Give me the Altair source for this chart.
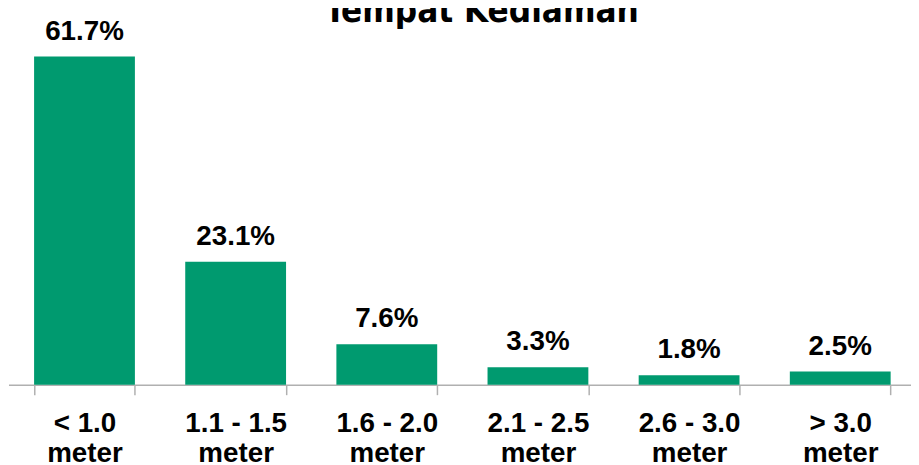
import altair as alt
import pandas as pd

categories = ["< 1.0\nmeter", "1.1 - 1.5\nmeter", "1.6 - 2.0\nmeter",
              "2.1 - 2.5\nmeter", "2.6 - 3.0\nmeter", "> 3.0\nmeter"]
values = [61.7, 23.1, 7.6, 3.3, 1.8, 2.5]
labels = ["61.7%", "23.1%", "7.6%", "3.3%", "1.8%", "2.5%"]

df = pd.DataFrame({"cat": categories, "val": values, "lab": labels})

FONT = "Liberation Sans"
GREEN = "#009A6F"

x = alt.X("cat:N", sort=categories, title=None,
          scale=alt.Scale(paddingInner=0.333, paddingOuter=0.152, align=0.557),
          axis=alt.Axis(labelExpr="split(datum.label, '\\n')", labelAngle=0,
                        labelFont=FONT, labelFontSize=28, labelFontWeight="bold",
                        labelColor="#000000", labelLineHeight=30.5, labelPadding=15,
                        tickBand="extent", tickSize=10, tickColor="#b0b0b0",
                        domainColor="#b0b0b0", domainWidth=1.5, tickWidth=1.5,
                        grid=False))
y = alt.Y("val:Q", scale=alt.Scale(domain=[0, 70], nice=False), axis=None)

bars = alt.Chart(df).mark_bar(color=GREEN).encode(x=x, y=y)
text = alt.Chart(df).mark_text(font=FONT, fontSize=28, fontWeight="bold",
                               color="#000000", baseline="alphabetic", dy=-17).encode(
    x=alt.X("cat:N", sort=categories), y="val:Q", text="lab:N")

chart = (bars + text).properties(
    width=910, height=375.6,
    autosize=alt.AutoSizeParams(type="none"),
    padding={"left": 0.5, "top": 2.4, "right": 0, "bottom": 77},
    title=alt.TitleParams("Tempat Kediaman", font="DejaVu Sans Condensed",
                          fontSize=35, fontWeight="bold", color="#000000",
                          anchor="middle", dx=22, dy=21),
).configure_view(stroke=None)

chart.save("out.html", embed_options={"renderer": "svg", "actions": False})
